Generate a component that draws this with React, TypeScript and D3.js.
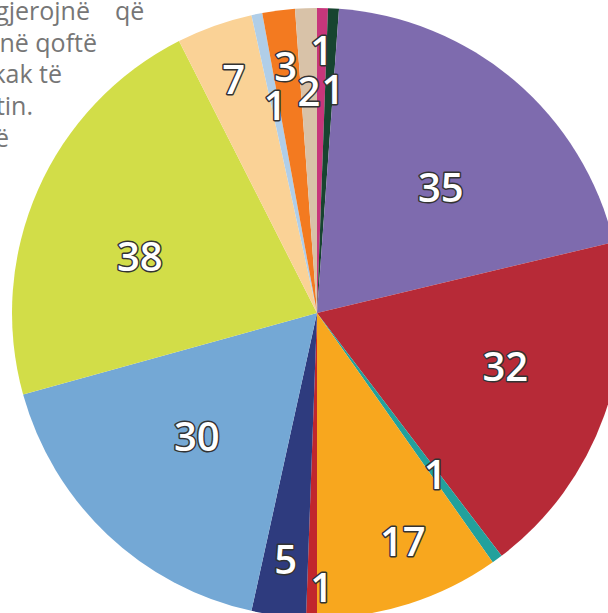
import React from "react";
import * as d3 from "d3";

const values = [1, 1, 35, 32, 1, 17, 1, 5, 30, 38, 7, 1, 3, 2];
const colors = [
  "#C7367B", "#174430", "#7E6BAE", "#B72A37", "#22A19C", "#F8A71E", "#C1272D",
  "#2E3B7E", "#74A8D5", "#D2DD48", "#FAD296", "#B0CEE8", "#F37A20", "#D8C2A8",
];
// label placement: radius fraction and angle offset (deg)
const labelRadius = [0.862, 0.733, 0.577, 0.642, 0.656, 0.8, 0.9, 0.815, 0.566, 0.61, 0.813, 0.695, 0.813, 0.725];
const labelShift = [0, 1, 4.4, -3.7, 0, -3, -2, 0, 0.7, -6, 0, 0, 0, 0];

const textLines = ["gjerojnë", "në qoftë", "kak të", "tin.", "ë"];
const textExtra = "që";

const W = 608, H = 613;
const cx = 317, cy = 313, R = 305;

export default function App() {
  const pie = d3.pie<number>().sort(null).value((d) => d).startAngle(0).endAngle(2 * Math.PI);
  const arcs = pie(values);
  const arc = d3.arc<d3.PieArcDatum<number>>().innerRadius(0).outerRadius(R);
  const lineEnds = [90, 97, 62, 33, 9];
  return (
    <div style={{ position: "fixed", left: 0, top: 0, width: W, height: H, overflow: "hidden", background: "#fff" }}>
      <svg width={W} height={H} style={{ display: "block" }}>
        <g fontFamily="'Open Sans', sans-serif" fontSize={25} fill="#767676">
          {textLines.map((t, i) => (
            <text key={i} x={lineEnds[i]} y={20 + i * 31.7} textAnchor="end">{t}</text>
          ))}
          <text x={115} y={20}>{textExtra}</text>
        </g>
        <g transform={`translate(${cx},${cy})`}>
          {arcs.map((a, i) => (
            <path key={i} d={arc(a) || ""} fill={colors[i]} />
          ))}
        </g>
        <g fontFamily="'Open Sans', sans-serif" fontWeight={600} fontSize={40} textAnchor="middle">
          {arcs.map((a, i) => {
            const ang = (a.startAngle + a.endAngle) / 2 + (labelShift[i] * Math.PI) / 180;
            const r = labelRadius[i] * R;
            const x = cx + r * Math.sin(ang);
            const y = cy - r * Math.cos(ang);
            return (
              <text key={i} x={x} y={y} dy="0.36em" fill="#fff" stroke="#333" strokeWidth={3}
                style={{ paintOrder: "stroke" }} strokeLinejoin="round">
                {a.data}
              </text>
            );
          })}
        </g>
      </svg>
    </div>
  );
}
